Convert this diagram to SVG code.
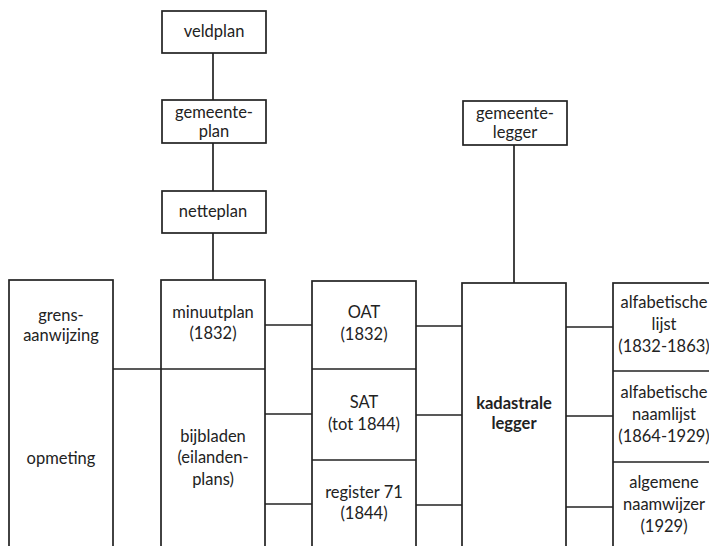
<svg xmlns="http://www.w3.org/2000/svg" width="709" height="546" viewBox="0 0 709 546">
<style>
rect{fill:#fff;stroke:#222;stroke-width:1.7}
.c line{stroke:#222;stroke-width:1.7}
.d{stroke:#222;stroke-width:1.7}
text{font-family:Lato,"Open Sans","Liberation Sans",sans-serif;font-size:16.5px;fill:#222;text-anchor:middle}
.b{font-weight:bold}
</style>
<rect x="0" y="0" width="709" height="546" style="stroke:none"/>
<g class="c" id="connectors">
<line x1="213" y1="53" x2="213" y2="100"/>
<line x1="213" y1="143" x2="213" y2="191"/>
<line x1="213" y1="233" x2="213" y2="280"/>
<line x1="514" y1="145" x2="514" y2="283"/>
<line x1="113" y1="369" x2="161" y2="369"/>
<line x1="265" y1="325" x2="312" y2="325"/>
<line x1="265" y1="414" x2="312" y2="414"/>
<line x1="265" y1="504" x2="312" y2="504"/>
<line x1="416" y1="326" x2="462" y2="326"/>
<line x1="416" y1="415" x2="462" y2="415"/>
<line x1="416" y1="505" x2="462" y2="505"/>
<line x1="566" y1="327" x2="613" y2="327"/>
<line x1="566" y1="416" x2="613" y2="416"/>
<line x1="566" y1="507" x2="613" y2="507"/>
</g>
<g id="veldplan"><rect x="162" y="11" width="104" height="42"/><text x="214" y="37">veldplan</text></g>
<g id="gemeenteplan"><rect x="162" y="100" width="104" height="43"/><text x="214" y="118">gemeente-</text><text x="214" y="137">plan</text></g>
<g id="netteplan"><rect x="162" y="191" width="104" height="42"/><text x="213" y="217">netteplan</text></g>
<g id="gemeentelegger"><rect x="463" y="101" width="104" height="44"/><text x="515" y="119">gemeente-</text><text x="515" y="138">legger</text></g>
<g id="opmeting"><rect x="9" y="280" width="104" height="290"/><text x="61" y="321">grens-</text><text x="61" y="341">aanwijzing</text><text x="61" y="464">opmeting</text></g>
<g id="minuutplan"><rect x="161" y="280" width="104" height="290"/><line class="d" x1="161" y1="369" x2="265" y2="369"/><text x="213" y="318">minuutplan</text><text x="213" y="339">(1832)</text><text x="213" y="442">bijbladen</text><text x="213" y="463">(eilanden-</text><text x="213" y="485">plans)</text></g>
<g id="oat"><rect x="312" y="281" width="104" height="290"/><line class="d" x1="312" y1="369" x2="416" y2="369"/><line class="d" x1="312" y1="460" x2="416" y2="460"/><text x="364" y="318">OAT</text><text x="364" y="340">(1832)</text><text x="364" y="408">SAT</text><text x="364" y="430">(tot 1844)</text><text x="364" y="498">register 71</text><text x="364" y="519">(1844)</text></g>
<g id="kadastrale"><rect x="462" y="283" width="104" height="290"/><text class="b" x="514" y="409">kadastrale</text><text class="b" x="514" y="429">legger</text></g>
<g id="lijsten"><rect x="613" y="283" width="104" height="290"/><line class="d" x1="613" y1="371" x2="717" y2="371"/><line class="d" x1="613" y1="462" x2="717" y2="462"/><text x="664" y="308">alfabetische</text><text x="664" y="330">lijst</text><text x="664" y="352">(1832-1863)</text><text x="664" y="398">alfabetische</text><text x="664" y="420">naamlijst</text><text x="664" y="442">(1864-1929)</text><text x="664" y="488">algemene</text><text x="664" y="510">naamwijzer</text><text x="664" y="532">(1929)</text></g>
</svg>
